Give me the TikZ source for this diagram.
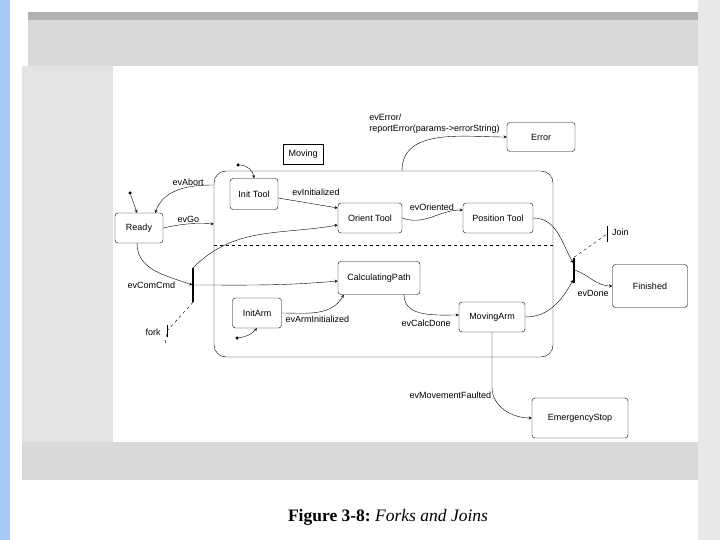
\documentclass[tikz,border=0pt]{standalone}
\usepackage{fontspec}
\setmainfont{Liberation Serif}
\newfontfamily\uifont{Liberation Sans}
\usetikzlibrary{arrows, positioning}
\definecolor{sidebar}{RGB}{165,200,245}
\tikzset{
    statebox/.style={rectangle, rounded corners=3pt, draw=black, thin, text centered, inner sep=2pt, font=\uifont\fontsize{9}{10}\selectfont},
    region/.style={rectangle, rounded corners=12pt, draw=black, thin, inner sep=0pt},
    movtab/.style={rectangle, draw=black, thin, minimum width=40pt, minimum height=20pt, font=\uifont\fontsize{9}{10}\selectfont},
    forkbar/.style={rectangle, fill=black, inner sep=0pt, minimum width=1.1pt},
    initdot/.style={circle, fill=black, inner sep=0pt, minimum size=3.5pt},
    evlabel/.style={font=\uifont\fontsize{9}{11}\selectfont, inner sep=1pt},
    arrow/.style={thin,->,>=stealth},
    divider/.style={thin, dashed},
    annot/.style={thin, dashed},
    chrome/.style={fill=gray!30, draw=none}
}

\begin{document}
\begin{tikzpicture}[x=1pt, y=-1pt]
    \useasboundingbox (0,0) rectangle (720,540);
    % page and screenshot frame
    \fill[sidebar] (0,0) rectangle (10,540);
    \fill[gray!18] (698,0) rectangle (720,540);
    \fill[chrome] (28,12) rectangle (698,66);
    \fill[gray!60] (28,12) rectangle (698,20);
    \fill[gray!22] (22,66) rectangle (113,442);
    \fill[chrome] (22,442) rectangle (698,480);

    % states
    \node (ready) [statebox, minimum width=48pt, minimum height=30pt] at (139,228) {Ready};
    \node (moving) [region, minimum width=339pt, minimum height=186pt] at (383.5,264) {};
    \node (movingtab) [movtab, anchor=south west] at (283,164) {Moving};
    \node (inittool) [statebox, minimum width=48pt, minimum height=31pt] at (254,194) {Init Tool};
    \node (orienttool) [statebox, minimum width=64pt, minimum height=30pt] at (370,218) {Orient Tool};
    \node (positiontool) [statebox, minimum width=70pt, minimum height=30pt] at (498,218) {Position Tool};
    \node (error) [statebox, minimum width=68pt, minimum height=29pt] at (541,137) {Error};
    \node (calcpath) [statebox, minimum width=82pt, minimum height=33pt] at (379,278) {CalculatingPath};
    \node (initarm) [statebox, minimum width=49pt, minimum height=30pt] at (257,313) {InitArm};
    \node (movingarm) [statebox, minimum width=66pt, minimum height=30pt] at (492,317) {MovingArm};
    \node (finished) [statebox, minimum width=75pt, minimum height=43pt] at (650,286) {Finished};
    \node (estop) [statebox, minimum width=96pt, minimum height=40pt] at (580,418) {EmergencyStop};

    % orthogonal regions
    \coordinate (divl) at (214,245);
    \coordinate (divr) at (553,245);
    \draw [divider] (divl) -- (divr);

    % pseudostates
    \node (readyinit) [initdot] at (130,193) {};
    \node (toolinit) [initdot] at (238,165) {};
    \node (arminit) [initdot] at (237,338) {};
    \node (fork) [forkbar, minimum height=34pt] at (193,285) {};
    \node (join) [forkbar, minimum height=25pt] at (574,270) {};

    \draw [arrow] (readyinit) -- ([xshift=-2pt]ready.north);
    \draw [arrow] (toolinit) to[bend left=40] (inittool.north);
    \draw [arrow] (arminit) to[bend right=20] (initarm.south);

    % transitions
    \draw [arrow] ([yshift=79pt]moving.west) to[out=180, in=70] node[pos=0.35, above, evlabel] {evAbort} ([xshift=-8pt]ready.north east);
    \draw [arrow] (ready.east) to[bend left=8] node[above, evlabel] {evGo} ([yshift=40pt]moving.west);
    \draw [arrow] ([yshift=-4pt]inittool.east) -- node[above=6pt, xshift=8pt, evlabel] {evInitialized} ([yshift=10pt]orienttool.west);
    \draw [arrow] (orienttool.east) to[out=-20, in=180] node[above=5pt, evlabel] {evOriented} ([yshift=8pt]positiontool.west);
    \draw [arrow] ([xshift=18.5pt]moving.north) to[out=90, in=180] node[at end, anchor=south east, xshift=-6pt, yshift=2pt, align=left, evlabel] {evError/\\reportError(params->errorString)} (error.west);
    \draw [arrow] ([xshift=-2pt]ready.south) to[out=-90, in=160] node[at end, left=16pt, evlabel] {evComCmd} (fork.west);
    \draw [arrow] (fork.north) to[out=45, in=190] ([yshift=-7pt]orienttool.west);
    \draw [arrow] (fork.east) to[out=0, in=185] ([yshift=-3pt]calcpath.west);
    \draw [arrow] (initarm.east) to[out=0, in=-120] node[pos=0.5, below=3pt, evlabel] {evArmInitialized} ([xshift=6pt]calcpath.south west);
    \draw [arrow] ([xshift=25pt]calcpath.south) to[out=-90, in=180] node[pos=0.55, below=5pt, evlabel] {evCalcDone} ([yshift=2pt]movingarm.west);
    \draw [arrow] (positiontool.east) to[out=0, in=120] ([yshift=7pt]join.west);
    \draw [arrow] (movingarm.east) to[out=0, in=-120] ([yshift=-10pt]join.west);
    \draw [arrow] (join.east) to[out=-20, in=180] node[pos=0.5, below=9pt, evlabel] {evDone} (finished.west);
    \draw [arrow] (movingarm.south) -- ([yshift=-55pt]movingarm.south) to[out=-90, in=180] node[pos=0.15, left=1pt, evlabel] {evMovementFaulted} (estop.west);

    % fork and join labels
    \node (forklabel) [evlabel] at (153,332) {fork};
    \coordinate (forktick) at (167,331);
    \draw [annot] (fork.south) -- (forktick) -- ++(-2,14);
    \draw (forktick) ++(0,-6) -- ++(0,12);
    \node (joinlabel) [evlabel, anchor=west] at (611,232) {Join};
    \coordinate (jointick) at (607,234);
    \draw [annot] (join.north) -- (jointick);
    \draw (jointick) ++(0,-8) -- ++(0,16);

    % caption
    \node (caption) at (388,517) {\fontsize{17.5}{20}\selectfont\textbf{Figure 3-8:}\ \textit{Forks and Joins}};
\end{tikzpicture}
\end{document}
